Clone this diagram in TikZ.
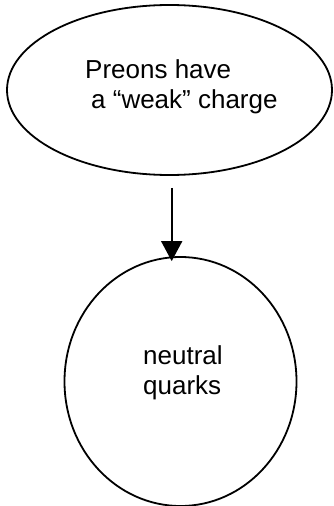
\documentclass[tikz,border=0pt]{standalone}
\usepackage{fontspec}
\setmainfont{Liberation Sans}
\usetikzlibrary{shapes.geometric,arrows.meta}
\begin{document}
\begin{tikzpicture}[x=1pt,y=-1pt,
  shapeline/.style={draw=black, line width=1.8pt, ellipse, inner sep=0pt},
  label/.style={align=left, anchor=base west, inner sep=0pt, font=\fontsize{26}{30}\selectfont},
  conn/.style={line width=1.8pt, -{Triangle[length=20pt,width=21pt]}}]
\useasboundingbox (0,0) rectangle (333,506);
\node[shapeline, minimum width=325pt, minimum height=170pt] (top) at (169.5,90) {};
\node[shapeline, minimum width=232pt, minimum height=249pt] (bot) at (180.5,381.5) {};
\node[label] (t1) at (85,108) {Preons have\\\hspace*{6pt}a “weak” charge};
\node[label] (t2) at (143,394) {neutral\\quarks};
\draw[conn] ([shift={(2.2pt,-12pt)}]top.south) -- ([shift={(-8.8pt,-5pt)}]bot.north);
\end{tikzpicture}
\end{document}
